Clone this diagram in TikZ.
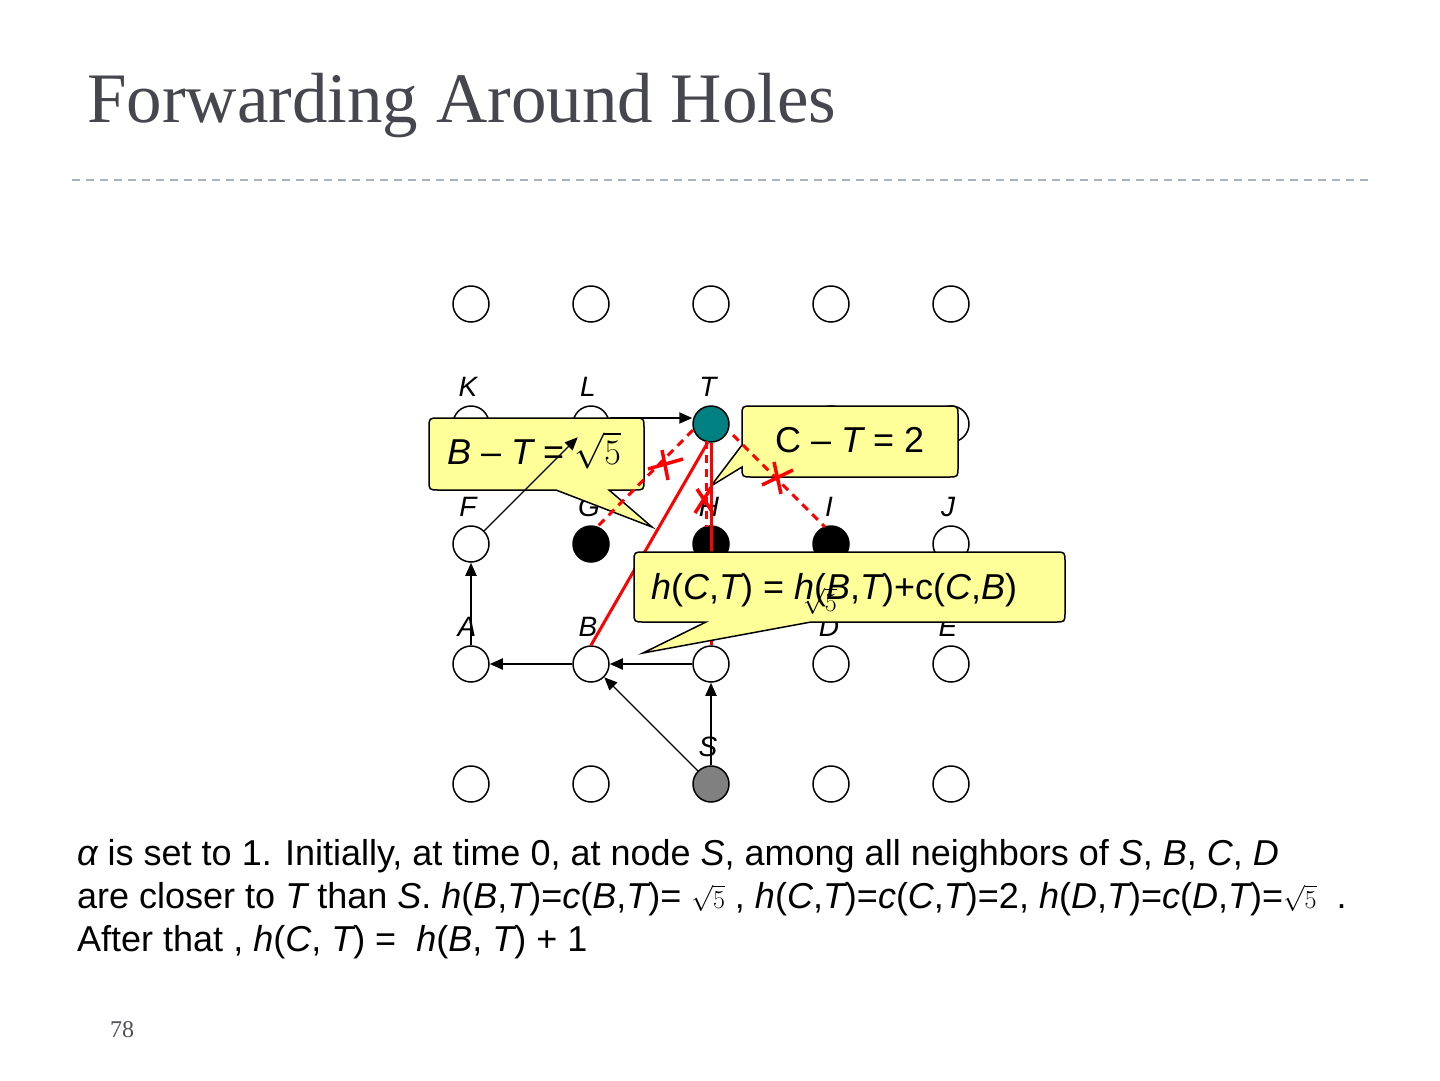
\RequirePackage{fix-cm}
\documentclass[tikz,border=0pt]{standalone}
\usepackage[no-math]{fontspec}
\newfontfamily\sansf{Liberation Sans}
\newfontfamily\serfont{Liberation Serif}
\usetikzlibrary{arrows.meta}
\definecolor{cfill}{HTML}{FFFF99}
\definecolor{tealnode}{HTML}{008080}
\definecolor{graynode}{HTML}{808080}
\definecolor{titlecol}{HTML}{46464F}
\definecolor{divcol}{HTML}{A9B3BD}
\definecolor{pgnum}{HTML}{505058}
\definecolor{redl}{HTML}{FF0000}
\newcommand\myi[1]{{\itshape #1}}
\newcommand\sqfive{{\fontsize{26}{28}\selectfont$\sqrt{5}$}}
\begin{document}
\begin{tikzpicture}[x=1pt,y=-1pt,
 pt/.style={circle,draw=black,line width=1.5pt,fill=white,minimum size=36pt,inner sep=0pt},
 lbl/.style={font=\sansf\itshape\fontsize{28}{30}\selectfont,anchor=base,inner sep=0pt},
 arr/.style={line width=2pt,-{Triangle[length=13pt,width=11pt]}},
 thinarr/.style={line width=1.3pt,-{Triangle[length=13pt,width=11pt]}},
 redsolid/.style={draw=redl,line width=3pt},
 reddash/.style={draw=redl,line width=3pt,dash pattern=on 8pt off 6pt},
 redx/.style={draw=redl,line width=3.5pt},
 callout/.style={draw=black,line width=1.5pt,fill=cfill},
 ctext/.style={font=\sansf\fontsize{36}{40}\selectfont,inner sep=0pt,anchor=base west},
 body/.style={font=\sansf\fontsize{36}{43}\selectfont,inner sep=0pt,anchor=base west}
]
\useasboundingbox[fill=white] (0,0) rectangle (1440,1080);

% title and divider
\node[font=\serfont\fontsize{71}{80}\selectfont,text=titlecol,anchor=base west,inner sep=0pt] (title) at (87,122) {Forwarding Around Holes};
\draw[divcol,line width=1.5pt,dash pattern=on 8pt off 6pt] (72,180) -- (1368,180);

% grid nodes
\node[pt] (r1a) at (471,304) {};
\node[pt] (r1b) at (591,304) {};
\node[pt] (r1c) at (711,304) {};
\node[pt] (r1d) at (831,304) {};
\node[pt] (r1e) at (951,304) {};
\node[pt] (K) at (471,424) {};
\node[pt] (L) at (591,424) {};
\node[pt,fill=tealnode] (T) at (711,424) {};
\node[pt] (r2d) at (831,424) {};
\node[pt] (r2e) at (951,424) {};
\node[pt] (F) at (471,544) {};
\node[pt,fill=black] (G) at (591,544) {};
\node[pt,fill=black] (H) at (711,544) {};
\node[pt,fill=black] (I) at (831,544) {};
\node[pt] (J) at (951,544) {};
\node[pt] (A) at (471,664) {};
\node[pt] (B) at (591,664) {};
\node[pt] (C) at (711,664) {};
\node[pt] (D) at (831,664) {};
\node[pt] (E) at (951,664) {};
\node[pt] (r5a) at (471,784) {};
\node[pt] (r5b) at (591,784) {};
\node[pt,fill=graynode] (S) at (711,784) {};
\node[pt] (r5d) at (831,784) {};
\node[pt] (r5e) at (951,784) {};

% labels
\node[lbl] (lK) at (468,396) {K};
\node[lbl] (lL) at (588,396) {L};
\node[lbl] (lT) at (708,396) {T};
\node[lbl] (lF) at (468,516) {F};
\node[lbl] (lG) at (589,516) {G};
\node[lbl] (lH) at (709,516) {H};
\node[lbl] (lI) at (829,516) {I};
\node[lbl] (lJ) at (948,516) {J};
\node[lbl] (lA) at (467,636) {A};
\node[lbl] (lB) at (588,636) {B};
\node[lbl] (lD) at (829,636) {D};
\node[lbl] (lE) at (948,636) {E};
\node[lbl] (lS) at (708,756) {S};

% callout B - T
\draw[callout] (609,490) -- (652,527) -- (556,490) -- (439,490) .. controls (429,490) .. (429,480) -- (429,428) .. controls (429,418) .. (439,418) -- (634,418) .. controls (644,418) .. (644,428) -- (644,480) .. controls (644,490) .. (634,490) -- cycle;
\node[ctext] (tB) at (447,464) {\myi{B} – \myi{T} = $\sqrt{5}$};

% callout C - T
\draw[callout] (742,445) -- (711,486) -- (742,467) .. controls (742,477) .. (752,477) -- (948,477) .. controls (958,477) .. (958,467) -- (958,416) .. controls (958,406) .. (948,406) -- (752,406) .. controls (742,406) .. (742,416) -- cycle;
\node[ctext] (tC) at (775,452) {C – \myi{T} = 2};

% red lines
\draw[reddash] ([shift={(-18,6)}]T.center) -- ([shift={(6,-17)}]G.center);
\draw[reddash] ([shift={(-5,17)}]T.center) -- ([shift={(-5,-17)}]H.center);
\draw[reddash] ([shift={(22,11)}]T.center) -- ([shift={(-6,-17)}]I.center);
\draw[redsolid] (T.south) -- (C.north);
\draw[redsolid] (T.-100) -- (B.north);
% red crosses
\draw[redx] (648,469) -- (683,459);
\draw[redx] (662,450) -- (668,480);
\draw[redx] (697,489) -- (713,513);
\draw[redx] (711,488) -- (695,513);
\draw[redx] (762,485) -- (793,470);
\draw[redx] (774,462) -- (781,494);

% callout h(C,T)
\draw[callout] (811,622) -- (643,653) -- (706,622) -- (644,622) .. controls (634,622) .. (634,612) -- (634,562) .. controls (634,552) .. (644,552) -- (1055,552) .. controls (1065,552) .. (1065,562) -- (1065,612) .. controls (1065,622) .. (1055,622) -- cycle;
\node[ctext] (tH) at (651,599) {\myi{h}(\myi{C},\myi{T}) = \myi{h}(\myi{B},\myi{T})+c(\myi{C},\myi{B})};
\node[anchor=base west,inner sep=0pt] (stray) at (803,611) {\sqfive};

% black arrows
\draw[arr] (S) -- (C);
\draw[thinarr] (S) -- (B);
\draw[arr] (C) -- (B);
\draw[arr] (B) -- (A);
\draw[arr] (A) -- (F);
\draw[thinarr] (F) -- (L);
\draw[arr] ([yshift=6pt]L.east) -- ([yshift=6pt]T.west);

% body text
\node[body] (line1) at (77,865) {\myi{α} is set to 1. Initially, at time 0, at node \myi{S}, among all neighbors of \myi{S}, \myi{B}, \myi{C}, \myi{D}};
\node[body] (line2) at (77,908) {are closer to \myi{T} than \myi{S}. \myi{h}(\myi{B},\myi{T})=\myi{c}(\myi{B},\myi{T})= \sqfive\ , \myi{h}(\myi{C},\myi{T})=\myi{c}(\myi{C},\myi{T})=2, \myi{h}(\myi{D},\myi{T})=\myi{c}(\myi{D},\myi{T})=\sqfive\ \ .};
\node[body] (line3) at (77,951) {After that , \myi{h}(\myi{C}, \myi{T}) = \ \myi{h}(\myi{B}, \myi{T}) + 1};

% page number
\node[font=\serfont\fontsize{24}{26}\selectfont,text=pgnum,anchor=base west,inner sep=0pt] (pg) at (110,1037) {78};
\end{tikzpicture}
\end{document}
